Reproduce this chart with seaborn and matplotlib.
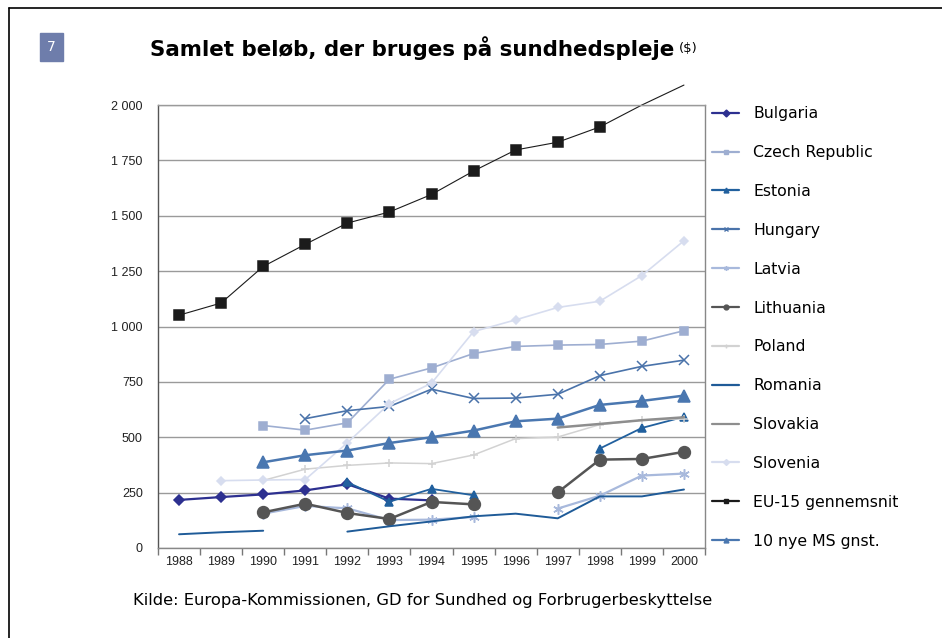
import numpy as np
import pandas as pd
import matplotlib
matplotlib.use("Agg")
import matplotlib.pyplot as plt
from matplotlib.lines import Line2D
from matplotlib.patches import Rectangle
import seaborn as sns

# Health spending per country, 1988-2000 (NaN = no data)
years = list(range(1988, 2001))
nan = np.nan

bulgaria = [217, 230, 242, 260, 288, 223, 215, nan, nan, nan, nan, nan, nan]
czech = [nan, nan, 553, 532, 565, 762, 813, 878, 910, 916, 919, 934, 981]
estonia = [nan, nan, nan, nan, 297, 209, 267, 238, nan, nan, 449, 542, 592]
hungary = [nan, nan, nan, 584, 620, 639, 717, 675, 677, 694, 778, 820, 848]
latvia = [nan, nan, 155, 190, 179, 126, 128, 140, nan, 178, 236, 327, 336]
lithuania = [nan, nan, 161, 200, 158, 131, 208, 197, nan, 251, 399, 402, 434]
poland = [nan, nan, 305, 356, 373, 384, 381, 420, 494, 501, 557, 577, 583]
romania = [62, 71, 78, nan, 74, 98, 120, 143, 155, 134, 233, 233, 264]
slovakia = [nan, nan, nan, nan, nan, nan, nan, nan, nan, 544, 560, 577, 590]
slovenia = [nan, 304, 307, 309, 475, 652, 744, 977, 1030, 1086, 1114, 1230, 1387]
eu15 = [1051, 1106, 1271, 1371, 1467, 1517, 1596, 1702, 1797, 1832, 1901, 2000, 2090]
new10 = [nan, nan, 387, 419, 440, 474, 500, 530, 572, 584, 646, 664, 688]

names = ["Bulgaria", "Czech Republic", "Estonia", "Hungary", "Latvia", "Lithuania",
         "Poland", "Romania", "Slovakia", "Slovenia", "EU-15 gennemsnit", "10 nye MS gnst."]
values = [bulgaria, czech, estonia, hungary, latvia, lithuania,
          poland, romania, slovakia, slovenia, eu15, new10]

y_ticks = [0, 250, 500, 750, 1000, 1250, 1500, 1750, 2000]
y_labels = [f"{v:,}".replace(",", " ") for v in y_ticks]

# color, marker, markersize, linewidth, legend markersize
styles = {
    "Bulgaria": ("#2d3090", "D", 5.5, 1.6, 3.5),
    "Czech Republic": ("#9eaed1", "s", 6.0, 1.2, 3.5),
    "Estonia": ("#21609e", "^", 5.5, 1.3, 3.5),
    "Hungary": ("#4a73aa", "x", 6.5, 1.2, 3.5),
    "Latvia": ("#a8b9dc", (6, 2, 0), 7.5, 1.6, 3.5),
    "Lithuania": ("#555555", "o", 8.5, 1.8, 3.5),
    "Poland": ("#d2d2d2", "+", 5.5, 1.1, 3.5),
    "Romania": ("#1f5b98", "None", 0, 1.4, 0),
    "Slovakia": ("#8e8e8e", "None", 0, 1.8, 0),
    "Slovenia": ("#d7ddef", "D", 4.5, 1.2, 3.0),
    "EU-15 gennemsnit": ("#1b1b1b", "s", 6.5, 0.8, 3.5),
    "10 nye MS gnst.": ("#4a77b0", "^", 8.5, 1.8, 3.5),
}

# long table, one segment id per unbroken run of values
rows = []
for name, vals in zip(names, values):
    seg = 0
    prev = False
    for yr, v in zip(years, vals):
        if np.isnan(v):
            prev = False
            continue
        if not prev:
            seg += 1
        rows.append((name, yr, v, seg))
        prev = True
df = pd.DataFrame(rows, columns=["country", "year", "value", "seg"])

sns.set_theme(style="white")
plt.rcParams["font.family"] = ["DejaVu Sans"]
plt.rcParams["text.color"] = "black"

fig = plt.figure(figsize=(9.42, 6.38), dpi=100)
ax = fig.add_axes([158 / 942, 1 - 548 / 638, 547 / 942, 443 / 638])

handles = []
for name in names:
    color, marker, ms, lw, lms = styles[name]
    sub = df[df["country"] == name]
    n0 = len(ax.lines)
    sns.lineplot(data=sub, x="year", y="value", units="seg", estimator=None,
                 color=color, marker=marker, markersize=ms, markeredgecolor=color,
                 markeredgewidth=1.1, linewidth=lw, ax=ax, legend=False)
    if name == "EU-15 gennemsnit":
        # line runs past the top of the plot, markers above 2000 are hidden
        for ln in ax.lines[n0:]:
            ln.set_clip_on(False)
            ln.set_markevery([i for i, v in enumerate(ln.get_ydata()) if v < 2000])
    handles.append(Line2D([], [], color=color, marker=marker, markersize=lms,
                          markeredgecolor=color, linewidth=1.6))

ax.set_xlim(1987.5, 2000.5)
ax.set_ylim(0, 2000)
ax.set_xlabel("")
ax.set_ylabel("")
ax.set_xticks(years)
ax.set_xticklabels([str(y) for y in years], fontsize=9, family="Liberation Sans")
ax.set_xticks([y + 0.5 for y in [years[0] - 1] + years], minor=True)
ax.set_yticks(y_ticks)
ax.set_yticklabels(y_labels, fontsize=9, family="Liberation Sans")
ax.tick_params(axis="x", which="major", length=0, pad=6, colors="#222222")
ax.tick_params(axis="x", which="minor", length=5, width=1, color="#777777", bottom=True)
ax.tick_params(axis="y", length=0, pad=11, colors="#222222")
ax.grid(axis="y", color="#9a9a9a", linewidth=1)
ax.set_axisbelow(True)
for side, col in [("left", "#555555"), ("bottom", "#888888"), ("right", "#888888"), ("top", "#9a9a9a")]:
    ax.spines[side].set_visible(True)
    ax.spines[side].set_color(col)
    ax.spines[side].set_linewidth(1)

fig.legend(handles, names, loc="upper left", bbox_to_anchor=(706 / 942, 1 - 100 / 638),
           frameon=False, fontsize=11.3, handlelength=1.7, handletextpad=0.9,
           labelspacing=1.52, borderaxespad=0, labelcolor="black")

# page furniture: border, number badge, title, source
fig.add_artist(Line2D([9 / 942, 9 / 942], [0, 1 - 8 / 638], color="black", lw=1.2))
fig.add_artist(Line2D([9 / 942, 1], [1 - 8 / 638, 1 - 8 / 638], color="black", lw=1.2))
fig.add_artist(Rectangle((40 / 942, 1 - 61 / 638), 23 / 942, 28 / 638,
                         transform=fig.transFigure, color="#6e7dab"))
fig.text(51.5 / 942, 1 - 47 / 638, "7", color="white", fontsize=10, ha="center", va="center")

title = fig.text(150 / 942, 1 - 48 / 638, "Samlet beløb, der bruges på sundhedspleje",
                 fontsize=15.4, weight="bold", va="center", color="black")
fig.canvas.draw()
bb = title.get_window_extent(fig.canvas.get_renderer())
fig.text(bb.x1 / fig.bbox.width + 5 / 942, 1 - 49 / 638, "($)", fontsize=9.5, va="center")

fig.text(133 / 942, 1 - 601 / 638,
         "Kilde: Europa-Kommissionen, GD for Sundhed og Forbrugerbeskyttelse",
         fontsize=11.8, va="center", color="black")

fig.savefig("out.png", dpi=100)
